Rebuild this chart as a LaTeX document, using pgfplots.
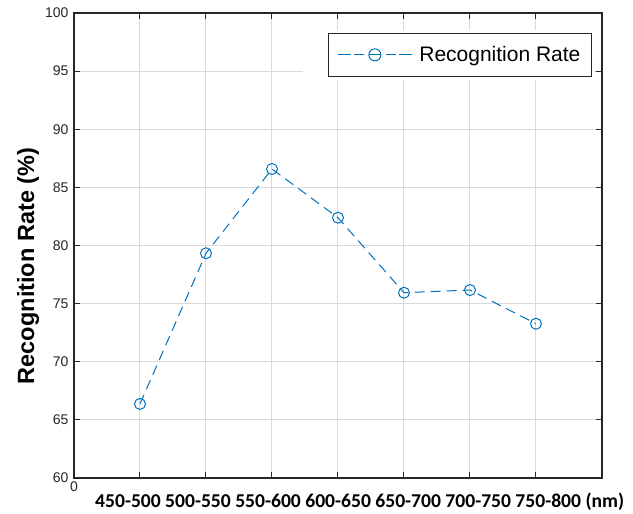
\documentclass[border=0pt]{standalone}
\usepackage{fontspec}
\setmainfont{Liberation Sans}
\newfontfamily\carlito{Carlito}
\usepackage{pgfplots}
\pgfplotsset{compat=1.18}
\definecolor{mblue}{RGB}{0,114,189}
\definecolor{gridgray}{RGB}{218,218,218}
\begin{document}
\begin{tikzpicture}[x=1pt,y=1pt]
\useasboundingbox (-74,-36) rectangle (559,478);
\begin{axis}[
  at={(0,0)}, anchor=south west,
  scale only axis, width=528pt, height=465pt,
  xmin=0, xmax=8, ymin=60, ymax=100,
  clip=false,
  xtick={0,1,...,7}, xticklabels={0,,,,,,,},
  ytick={60,65,...,100},
  grid=major, major grid style={gridgray, line width=1pt},
  tick align=inside, major tick length=6pt,
  axis line style={line width=1.5pt, black!85},
  every tick/.style={black!85, line width=1pt},
  tick label style={font=\fontsize{14}{16}\selectfont, text=black!85},
  yticklabel style={xshift=-2pt},
  /pgf/number format/assume math mode=true,
  legend style={at={(0.981,0.957)}, anchor=north east, draw=black!85, line width=1pt,
    fill=white, font=\fontsize{21}{24}\selectfont, inner xsep=9pt, inner ysep=11pt},
  legend cell align=left,
  legend image code/.code={
    \path (0pt,0pt) -- (79pt,0pt);
    \draw[solid, mblue, line width=1pt] (0pt,0pt) -- (13pt,0pt);
    \draw[solid, mblue, line width=1pt] (31pt,0pt) -- (43pt,0pt);
    \draw[solid, mblue, line width=1pt] (61pt,0pt) -- (73pt,0pt);
    \draw[solid, mblue, line width=1pt] (37pt,0pt) circle (6pt);
  },
]
\fill[white] (axis cs:3.47,94.24) rectangle (axis cs:7.88,98.54);
\addplot[mblue, line width=1pt, dash pattern=on 10pt off 6pt, mark=o, mark size=5.5pt,
  mark options={solid}] coordinates {
  (1,66.37) (2,79.33) (3,86.58) (4,82.39) (5,75.94) (6,76.17) (7,73.27)
};
\addlegendentry{Recognition Rate}
\path (rel axis cs:0,0) ++(21pt,-30pt) node[anchor=base west, inner sep=0pt,
  font=\carlito\bfseries\fontsize{19.6}{24}\selectfont]
  {450-500 500-550 550-600 600-650 650-700 700-750 750-800 (nm)};
\path (rel axis cs:0,0.456) ++(-46pt,0pt) node[rotate=90, inner sep=0pt,
  font=\bfseries\fontsize{23.5}{28}\selectfont] {Recognition Rate (\%)};
\end{axis}
\end{tikzpicture}
\end{document}
